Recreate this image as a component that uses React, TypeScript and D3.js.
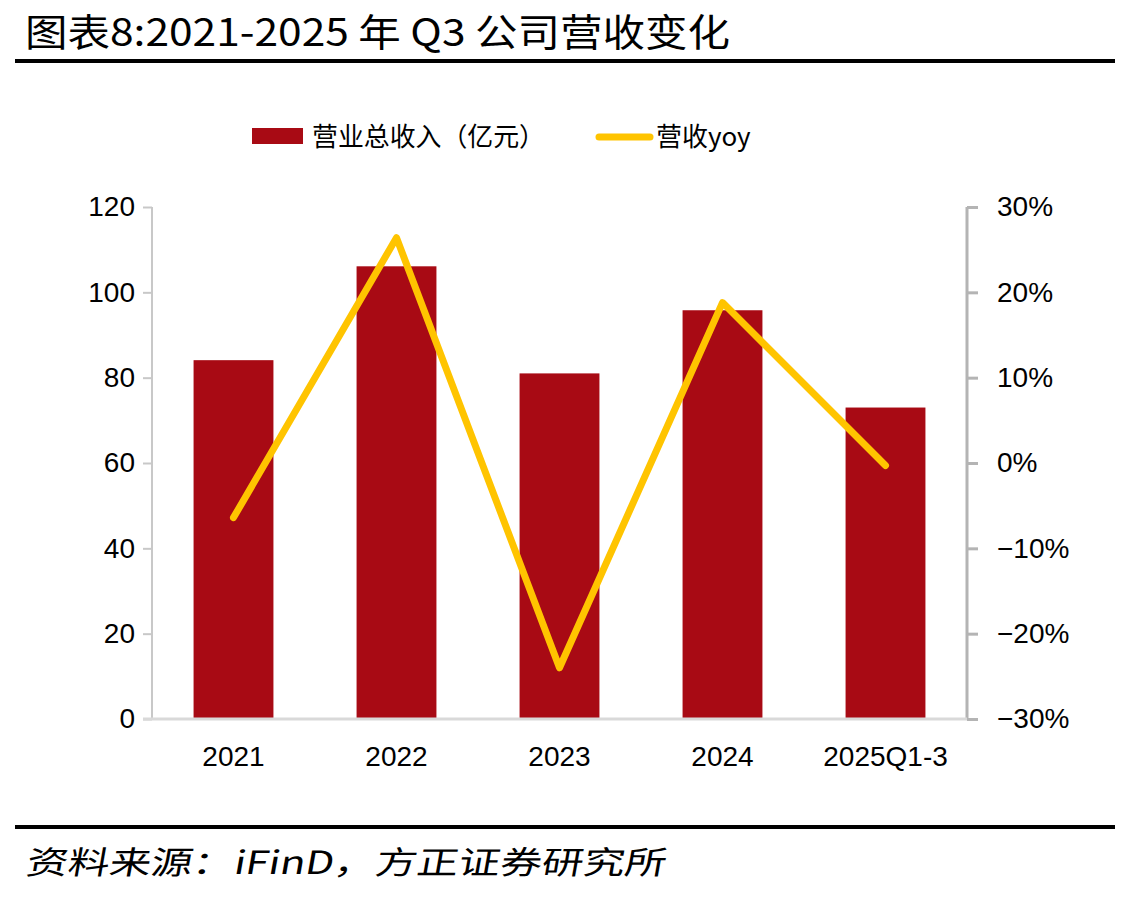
import { useEffect, useRef } from 'react';
import { select, scaleBand, scaleLinear, axisLeft, axisRight, axisBottom, line } from 'd3';

const categories = ['2021', '2022', '2023', '2024', '2025Q1-3'];
const revenue = [84.1, 106.1, 81.0, 95.8, 73.0];
const revenueYoy = [-6.4, 26.4, -24.0, 18.8, -0.3];
const leftTicks = [0, 20, 40, 60, 80, 100, 120];
const rightTicks = [-30, -20, -10, 0, 10, 20, 30];

const BAR = '#A80A14';
const LINE = '#FFC400';
const CJK = '"Noto Sans CJK SC", "Noto Sans", sans-serif';
const NUM = '"Liberation Sans", Arial, sans-serif';

export default function App() {
  const svgRef = useRef<SVGSVGElement | null>(null);

  useEffect(() => {
    if (!svgRef.current) return;
    const svg = select(svgRef.current);
    svg.selectAll('*').remove();

    const width = 1130;
    const height = 897;
    const margin = { top: 207, right: 163, bottom: 178, left: 152 };

    svg.attr('viewBox', `0 0 ${width} ${height}`);
    svg.append('rect').attr('width', width).attr('height', height).attr('fill', '#fff');

    // title + rules
    svg
      .append('text')
      .attr('x', 25)
      .attr('y', 46)
      .attr('font-family', CJK)
      .attr('font-size', 38)
      .attr('textLength', 705)
      .attr('lengthAdjust', 'spacingAndGlyphs')
      .attr('fill', '#000')
      .text('图表8:2021-2025 年 Q3 公司营收变化');
    svg.append('rect').attr('x', 15).attr('y', 59).attr('width', 1100).attr('height', 4).attr('fill', '#000');
    svg.append('rect').attr('x', 15).attr('y', 825).attr('width', 1100).attr('height', 4).attr('fill', '#000');
    svg
      .append('text')
      .attr('x', 25)
      .attr('y', 874)
      .attr('font-family', CJK)
      .attr('font-size', 32)
      .attr('textLength', 640)
      .attr('lengthAdjust', 'spacingAndGlyphs')
      .attr('transform', 'skewX(-10) translate(154,0)')
      .attr('fill', '#000')
      .text('资料来源：iFinD，方正证券研究所');

    const x = scaleBand<string>()
      .domain(categories)
      .range([margin.left, width - margin.right])
      .paddingInner(0.51)
      .paddingOuter(0.255);

    const y0 = height - margin.bottom;
    const y = scaleLinear().domain([0, 120]).range([y0, margin.top]);
    const y2 = scaleLinear().domain([-30, 30]).range([y0, margin.top]);

    // bars
    svg
      .append('g')
      .selectAll('rect')
      .data(revenue)
      .join('rect')
      .attr('x', (_d, i) => x(categories[i]) ?? 0)
      .attr('y', (d) => y(d))
      .attr('width', x.bandwidth())
      .attr('height', (d) => y(0) - y(d))
      .attr('fill', BAR);

    // left axis
    const yAxis = svg
      .append('g')
      .attr('transform', `translate(${margin.left},0)`)
      .call(axisLeft(y).tickValues(leftTicks).tickSize(9).tickPadding(8));
    yAxis.selectAll('text').attr('font-family', NUM).attr('font-size', 28).attr('fill', '#000');
    yAxis.selectAll('line').attr('stroke', '#c8c8c8').attr('stroke-width', 2);
    yAxis.select('.domain').attr('stroke', '#c8c8c8').attr('stroke-width', 2).attr('d', `M0,${margin.top}V${y0}`);

    // right axis
    const rightX = width - margin.right;
    const yAxis2 = svg
      .append('g')
      .attr('transform', `translate(${rightX},0)`)
      .call(axisRight(y2).tickValues(rightTicks).tickSize(11).tickPadding(19).tickFormat((v) => `${v}%`.replace('-', '\u2212')));
    yAxis2.selectAll('text').attr('font-family', NUM).attr('font-size', 28).attr('fill', '#000');
    yAxis2.selectAll('line').attr('stroke', '#b4b4b4').attr('stroke-width', 3);
    yAxis2.select('.domain').attr('stroke', '#b4b4b4').attr('stroke-width', 3).attr('d', `M0,${margin.top}V${y0}`);

    // bottom axis
    const xAxis = svg
      .append('g')
      .attr('transform', `translate(0,${y0})`)
      .call(axisBottom(x).tickSize(0).tickPadding(27));
    xAxis.selectAll('text').attr('font-family', NUM).attr('font-size', 28).attr('fill', '#000');
    xAxis.select('.domain').attr('stroke', '#d9d9d9').attr('stroke-width', 3).attr('d', `M${margin.left - 9},0H${rightX}`);

    // yoy line
    const lineGen = line<number>()
      .x((_d, i) => (x(categories[i]) ?? 0) + x.bandwidth() / 2)
      .y((d) => y2(d));
    svg
      .append('path')
      .datum(revenueYoy)
      .attr('d', lineGen)
      .attr('fill', 'none')
      .attr('stroke', LINE)
      .attr('stroke-width', 7)
      .attr('stroke-linecap', 'round')
      .attr('stroke-linejoin', 'round');

    // legend
    const legend = svg.append('g');
    legend.append('rect').attr('x', 252).attr('y', 128).attr('width', 51).attr('height', 16).attr('fill', BAR);
    legend
      .append('text')
      .attr('x', 312)
      .attr('y', 146)
      .attr('font-family', CJK)
      .attr('font-size', 26)
      .attr('textLength', 233)
      .attr('lengthAdjust', 'spacingAndGlyphs')
      .attr('fill', '#000')
      .text('营业总收入（亿元）');
    legend
      .append('line')
      .attr('x1', 599)
      .attr('x2', 650)
      .attr('y1', 137)
      .attr('y2', 137)
      .attr('stroke', LINE)
      .attr('stroke-width', 7)
      .attr('stroke-linecap', 'round');
    legend
      .append('text')
      .attr('x', 656)
      .attr('y', 146)
      .attr('font-family', CJK)
      .attr('font-size', 26)
      .attr('fill', '#000')
      .text('营收yoy');
  }, []);

  return (
    <svg
      ref={svgRef}
      width={1130}
      height={897}
      style={{ position: 'absolute', left: 0, top: 0, display: 'block' }}
    />
  );
}
